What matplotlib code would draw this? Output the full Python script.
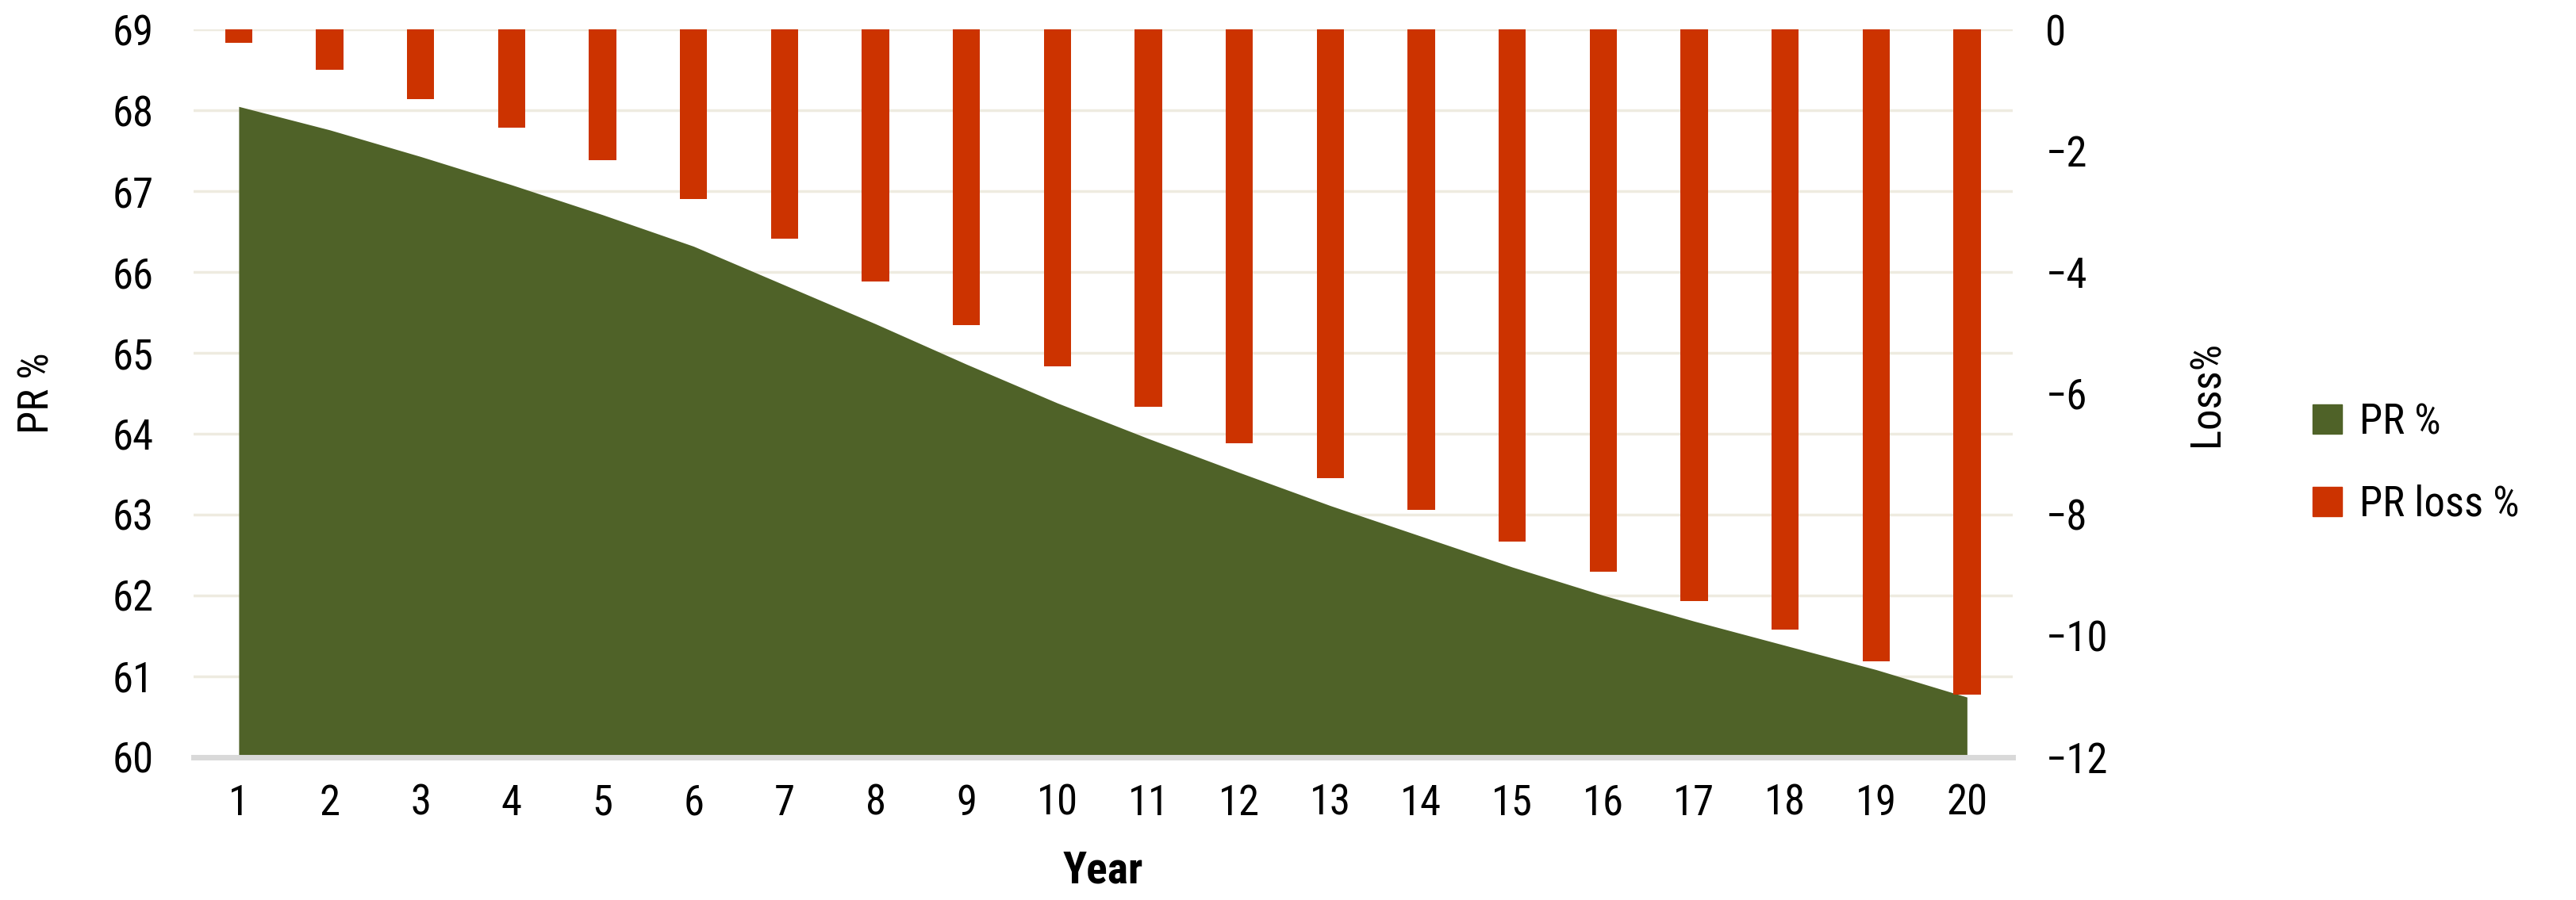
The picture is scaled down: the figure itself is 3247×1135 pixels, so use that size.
import matplotlib
matplotlib.use("Agg")
import matplotlib.pyplot as plt
from matplotlib.patches import Patch
from matplotlib import font_manager

names = {f.name for f in font_manager.fontManager.ttflist}
narrow = [n for n in ['Liberation Sans Narrow', 'Roboto Condensed', 'Open Sans Condensed'] if n in names]
plt.rcParams['font.family'] = narrow + ['DejaVu Sans']
plt.rcParams['font.stretch'] = 'condensed'

# data
years = list(range(1, 21))
pr = [68.05, 67.76, 67.43, 67.08, 66.71, 66.32, 65.84, 65.36, 64.86, 64.38,
      63.94, 63.52, 63.11, 62.73, 62.35, 62.00, 61.68, 61.38, 61.08, 60.74]
pr_loss = [-0.22, -0.66, -1.15, -1.62, -2.15, -2.8, -3.45, -4.15, -4.88, -5.55,
           -6.22, -6.82, -7.40, -7.92, -8.45, -8.95, -9.43, -9.90, -10.42, -10.97]
left_ticks = list(range(60, 70))
right_ticks = list(range(-12, 1, 2))

green = '#4F6228'
red = '#CC3300'
grid_c = '#EEEBE0'

fig = plt.figure(figsize=(32.48, 11.35), dpi=100)
ax = fig.add_axes([0.075, 0.159, 0.706, 0.808])
ax2 = ax.twinx()

ax.fill_between(years, pr, 60, color=green, lw=0, zorder=2)
ax2.bar(years, pr_loss, width=0.3, color=red, zorder=3)

ax.set_xlim(0.5, 20.5)
ax.set_ylim(60, 69)
ax2.set_ylim(-12, 0)

ax.set_yticks(left_ticks)
ax2.set_yticks(right_ticks)
ax.set_xticks(years)
for y in left_ticks[1:]:
    ax.axhline(y, color=grid_c, lw=2.5, zorder=1)

for a in (ax, ax2):
    for s in a.spines.values():
        s.set_visible(False)
    a.tick_params(length=0, labelsize=38)
ax.spines['bottom'].set_visible(True)
ax.spines['bottom'].set_color('#D9D9D9')
ax.spines['bottom'].set_linewidth(5)
ax.tick_params(axis='x', pad=24)
ax.tick_params(axis='y', pad=36)
ax2.tick_params(axis='y', pad=30)

ax.set_ylabel('PR %', fontsize=38, labelpad=50)
ax2.set_ylabel('Loss%', fontsize=38, labelpad=72)
ax.set_xlabel('Year', fontsize=40, fontweight='bold', labelpad=24)

handles = [Patch(color=green, label='PR %'), Patch(color=red, label='PR loss %')]
fig.legend(handles=handles, loc='center left', bbox_to_anchor=(0.883, 0.485),
           frameon=False, fontsize=38, handlelength=0.7, handleheight=0.7,
           labelspacing=1.0, handletextpad=0.4)

fig.savefig('out.png', dpi=100)
